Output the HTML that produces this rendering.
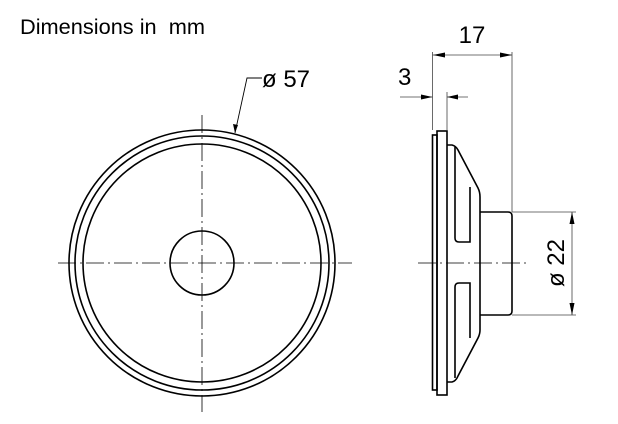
<!DOCTYPE html>
<html><head><style>body{margin:0;background:#fff}svg{display:block}</style></head><body>
<svg width="618" height="424" viewBox="0 0 618 424" xmlns="http://www.w3.org/2000/svg" font-family="Liberation Sans, sans-serif">
<text x="20" y="34" font-size="21" textLength="185" lengthAdjust="spacingAndGlyphs">Dimensions in &#160;mm</text>
<g fill="none" stroke="#000">
<g stroke-width="1.6">
<circle cx="202" cy="263" r="133"/>
<circle cx="202" cy="263" r="127"/>
<circle cx="202" cy="263" r="119"/>
<circle cx="202" cy="263" r="32"/>
</g>
<g stroke-width="0.8" stroke-dasharray="18,4,2,4">
<line x1="202" y1="115" x2="202" y2="412"/>
<line x1="58" y1="263" x2="352" y2="263"/>
<line x1="418" y1="263" x2="528" y2="263"/>
</g>
<polyline points="235,133 247,78 262,78" stroke-width="0.9"/>
<g stroke-width="1.6">
<rect x="432.5" y="135" width="4.5" height="255"/>
<rect x="437" y="131" width="10" height="264"/>
<path d="M447,145 L452,145 Q456,146 458,150 L478,188 Q480,192 480,197 L480,330 Q480,334 478,338 L458,376 Q456,381 452,382 L447,382"/>
<path d="M455,147 L455,238 Q455,242 459,242 L470,242 L470,187"/>
<path d="M455,378 L455,287 Q455,283 459,283 L470,283 L470,338"/>
<path d="M480,212 L508,212 Q512,212 512,216 L512,311 Q512,315 508,315 L480,315"/>
</g>
<g stroke-width="0.8" stroke="#444">
<line x1="432.5" y1="52" x2="432.5" y2="130"/>
<line x1="512" y1="52" x2="512" y2="212"/>
<line x1="432.5" y1="55" x2="512" y2="55"/>
<line x1="447" y1="92" x2="447" y2="130"/>
<line x1="400" y1="97" x2="432.5" y2="97"/>
<line x1="447" y1="97" x2="468" y2="97"/>
<line x1="512" y1="212" x2="576" y2="212"/>
<line x1="512" y1="315" x2="576" y2="315"/>
<line x1="572" y1="212" x2="572" y2="315"/>
</g>
</g>
<g fill="#000">
<polygon points="433,55 445,52.5 445,57.5"/>
<polygon points="512,55 500,52.5 500,57.5"/>
<polygon points="432.5,97 421,94.5 421,99.5"/>
<polygon points="447,97 458,94.5 458,99.5"/>
<polygon points="572,212 569.5,224 574.5,224"/>
<polygon points="572,315 569.5,303 574.5,303"/>
<polygon points="235,133 233,124 238,125"/>
</g>
<text x="472" y="43" font-size="24" text-anchor="middle">17</text>
<text x="398" y="85" font-size="24">3</text>
<text x="262" y="87" font-size="24">ø 57</text>
<text x="0" y="0" font-size="24" text-anchor="middle" transform="translate(564,263) rotate(-90)">ø 22</text>
</svg>
</body></html>
